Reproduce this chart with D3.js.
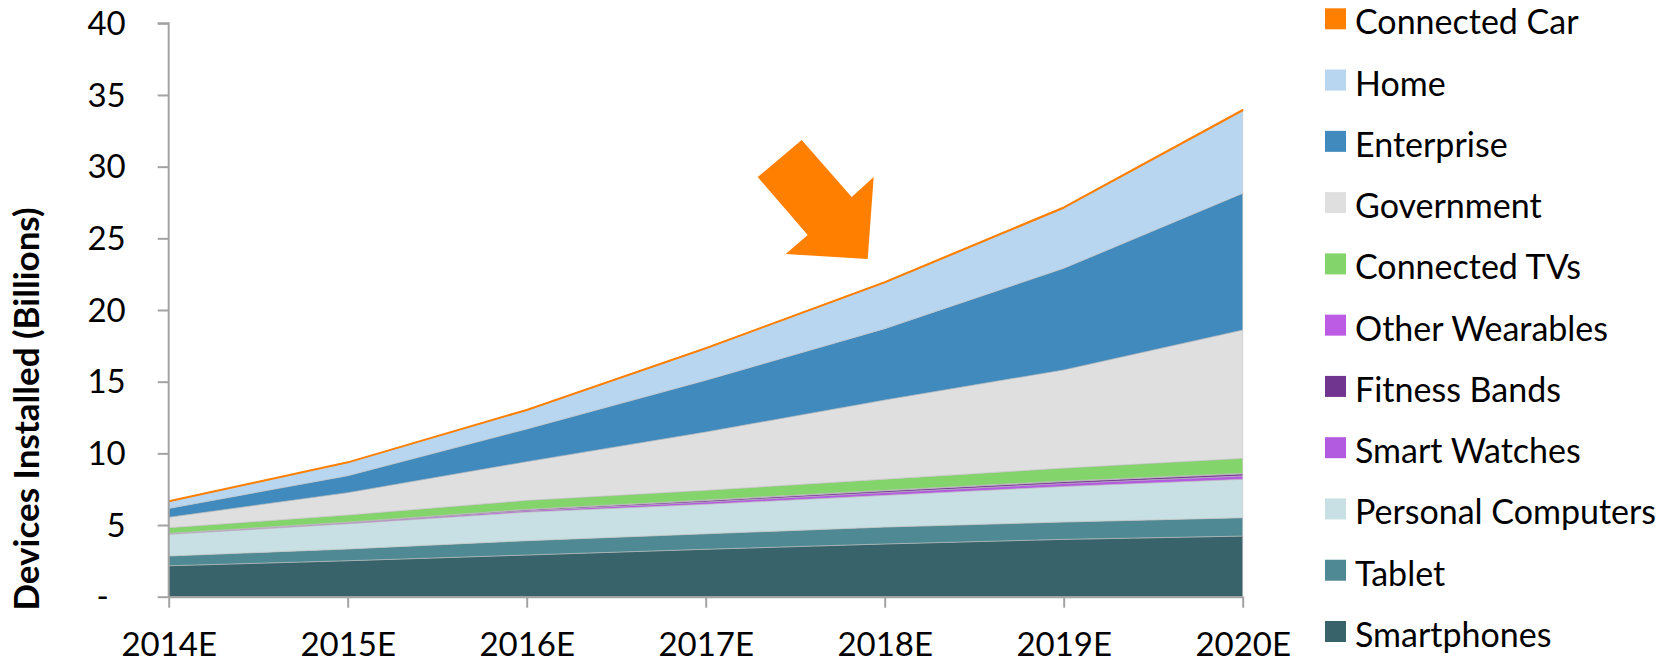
<!DOCTYPE html>
<html>
<head>
<meta charset="utf-8">
<script src="https://cdn.jsdelivr.net/npm/d3@7"></script>
<style>
	body { margin: 0; background: #fff; }
	svg { display: block; font-family: Lato, "Open Sans", sans-serif; }
	.tick-label { font-size: 33px; fill: #000; }
	.legend-label { font-size: 34px; fill: #000; }
	.axis-title { font-size: 35px; font-weight: bold; fill: #000; }
</style>
</head>
<body>
<div id="chart"></div>
<script>
'use strict';

// categories
var years = ["2014E", "2015E", "2016E", "2017E", "2018E", "2019E", "2020E"];

// series, billions of installed devices (stacked bottom to top)
var smartphones      = [2.16, 2.51, 2.91, 3.31, 3.68, 4.00, 4.23];
var tablet           = [0.68, 0.82, 1.00, 1.08, 1.18, 1.21, 1.28];
var personalComps    = [1.51, 1.76, 1.99, 2.06, 2.21, 2.48, 2.68];
var smartWatches     = [0.04, 0.06, 0.10, 0.16, 0.20, 0.21, 0.24];
var fitnessBands     = [0.03, 0.04, 0.07, 0.10, 0.12, 0.13, 0.14];
var otherWearables   = [0.01, 0.02, 0.03, 0.04, 0.04, 0.04, 0.04];
var connectedTVs     = [0.38, 0.49, 0.62, 0.67, 0.77, 0.90, 1.04];
var government       = [0.73, 1.56, 2.70, 4.07, 5.52, 6.85, 8.95];
var enterprise       = [0.62, 1.18, 2.28, 3.61, 4.98, 7.09, 9.54];
var home             = [0.47, 0.91, 1.30, 2.20, 3.20, 4.20, 5.76];
var connectedCar     = [0.05, 0.05, 0.06, 0.06, 0.07, 0.07, 0.08];

var yTicks = [0, 5, 10, 15, 20, 25, 30, 35, 40];

var series = [
	{ key: "Smartphones",        values: smartphones,    color: "#38636b" },
	{ key: "Tablet",             values: tablet,         color: "#4f8a94" },
	{ key: "Personal Computers", values: personalComps,  color: "#c8e0e4" },
	{ key: "Smart Watches",      values: smartWatches,   color: "#b25ae0" },
	{ key: "Fitness Bands",      values: fitnessBands,   color: "#70358f" },
	{ key: "Other Wearables",    values: otherWearables, color: "#bc5ce4" },
	{ key: "Connected TVs",      values: connectedTVs,   color: "#84d46c" },
	{ key: "Government",         values: government,     color: "#dfdfdf" },
	{ key: "Enterprise",         values: enterprise,     color: "#418abd" },
	{ key: "Home",               values: home,           color: "#b8d6f0" },
	{ key: "Connected Car",      values: connectedCar,   color: "#ff7f00" }
];

var W = 1667, H = 662;
var plot = { left: 168.7, right: 1242.7, top: 23.3, bottom: 596.7 };

var svg = d3.select("#chart")
			.append("svg")
			.attr("width", W)
			.attr("height", H);

var x = d3.scalePoint()
		  .domain(years)
		  .range([plot.left, plot.right]);

var y = d3.scaleLinear()
		  .domain([0, 40])
		  .range([plot.bottom, plot.top]);

// table for the stack
var table = years.map(function(yr, i) {
	var row = { year: yr };
	series.forEach(function(s) { row[s.key] = s.values[i]; });
	return row;
});

var stack = d3.stack().keys(series.map(function(s) { return s.key; }));
var layers = stack(table);

var area = d3.area()
			 .x(function(d) { return x(d.data.year); })
			 .y0(function(d) { return y(d[0]); })
			 .y1(function(d) { return y(d[1]); });

var gAreas = svg.append("g").attr("class", "areas");

gAreas.selectAll("path")
	  .data(layers)
	  .join("path")
	  .attr("d", area)
	  .attr("fill", function(d, i) { return series[i].color; })
	  .attr("stroke", function(d, i) { return series[i].key == "Connected Car" ? "#ff7f00" : "rgba(190,190,190,0.7)"; })
	  .attr("stroke-width", function(d, i) { return series[i].key == "Connected Car" ? 1.2 : 0.8; })
	  .attr("stroke-linejoin", "round");

// axes
var axisColor = "#a3a3a3";

var yAxis = svg.append("g")
			   .attr("transform", `translate(${plot.left},0)`)
			   .call(d3.axisLeft(y)
					   .tickValues(yTicks)
					   .tickSize(11)
					   .tickPadding(32)
					   .tickFormat(function(d) { return d === 0 ? "-" : d; }));

var xAxis = svg.append("g")
			   .attr("transform", `translate(0,${plot.bottom})`)
			   .call(d3.axisBottom(x)
					   .tickSize(11)
					   .tickPadding(25)
					   .tickSizeOuter(0));

[yAxis, xAxis].forEach(function(g) {
	g.select(".domain").attr("stroke", axisColor).attr("stroke-width", 2);
	g.selectAll(".tick line").attr("stroke", axisColor).attr("stroke-width", 2);
	g.selectAll(".tick text")
	 .attr("class", "tick-label")
	 .attr("font-family", null)
	 .attr("font-size", null);
	g.attr("font-family", null).attr("font-size", null);
});

yAxis.select(".domain").attr("d", `M-11,${plot.top}H0V${plot.bottom}`);
yAxis.selectAll(".tick text").attr("dy", "0.34em");
yAxis.selectAll(".tick")
	 .filter(function(d) { return d === 0; })
	 .select("text")
	 .attr("x", -60);

xAxis.selectAll(".tick text").attr("dy", "0.71em");

// axis title
svg.append("text")
   .attr("class", "axis-title")
   .attr("transform", "translate(39,409) rotate(-90)")
   .attr("text-anchor", "middle")
   .text("Devices Installed (Billions)");

// callout arrow, anchored to the chart scales
var tip = [x("2018E") - 17, y(23.55)];
var arrowShape = [[-110, -82], [-66, -119], [-16, -62], [6, -82], [0, 0], [-82, -5], [-60, -24]];

svg.append("path")
   .attr("class", "arrow")
   .attr("d", d3.line()(arrowShape.map(function(p) { return [tip[0] + p[0], tip[1] + p[1]]; })) + "Z")
   .attr("fill", "#ff8000");

// legend (top item = top of stack)
var legend = svg.append("g").attr("class", "legend");
var legendItems = series.slice().reverse();

var item = legend.selectAll("g")
				 .data(legendItems)
				 .join("g")
				 .attr("transform", function(d, i) { return `translate(1325,${8.3 + i * 61.27})`; });

item.append("rect")
	.attr("width", 21)
	.attr("height", 21)
	.attr("fill", function(d) { return d.color; });

item.append("text")
	.attr("class", "legend-label")
	.attr("x", 30)
	.attr("y", 26)
	.text(function(d) { return d.key; });
</script>
</body>
</html>
